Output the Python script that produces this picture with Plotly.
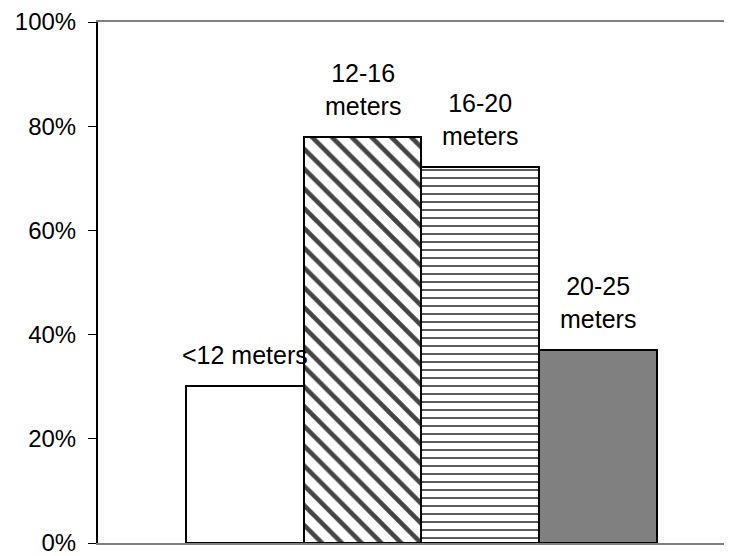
import plotly.graph_objects as go

categories = ["<12 meters", "12-16<br>meters", "16-20<br>meters", "20-25<br>meters"]
values = [0.301, 0.779, 0.721, 0.371]
fill_colors = ["white", "white", "white", "#808080"]
patterns = ["", "\\", "-", ""]

positions = list(range(len(values)))

fig = go.Figure()
fig.add_trace(go.Bar(
    x=positions,
    y=values,
    width=1.0,
    marker=dict(
        color=fill_colors,
        line=dict(color="black", width=2),
        pattern=dict(
            shape=patterns,
            fgcolor="black",
            fgopacity=1,
            bgcolor=fill_colors,
            size=[10, 14, 8, 10],
            solidity=[0.3, 0.33, 0.22, 0.3],
            fillmode="overlay",
        ),
    ),
    showlegend=False,
    hoverinfo="skip",
))

for p, v, c in zip(positions, values, categories):
    fig.add_annotation(
        x=p, y=v, text=c, showarrow=False,
        xanchor="center", yanchor="bottom", yshift=15,
        font=dict(family="Liberation Sans, Arial", size=25, color="black"),
    )

# page body has an 8px margin, so the figure is sized/offset to compensate
fig.update_layout(
    width=724, height=548,
    margin=dict(l=90, r=0, t=14, b=10),
    plot_bgcolor="white", paper_bgcolor="white",
    bargap=0,
    font=dict(family="Liberation Sans, Arial", size=24, color="black"),
)
fig.update_xaxes(
    range=[-1.25, 4.14], showticklabels=False, ticks="",
    showgrid=False, zeroline=False,
    showline=True, linecolor="#808080", linewidth=2, mirror=True,
)
fig.update_yaxes(
    range=[0, 1], dtick=0.2, tickformat=".0%",
    showgrid=False, zeroline=False,
    showline=True, linecolor="black", linewidth=2,
    ticks="outside", ticklen=8, tickcolor="black", tickwidth=1,
    ticklabelstandoff=7, ticklabeloverflow="allow",
    tickfont=dict(family="Liberation Sans, Arial", size=24, color="black"),
)

fig.write_html("out.html")
